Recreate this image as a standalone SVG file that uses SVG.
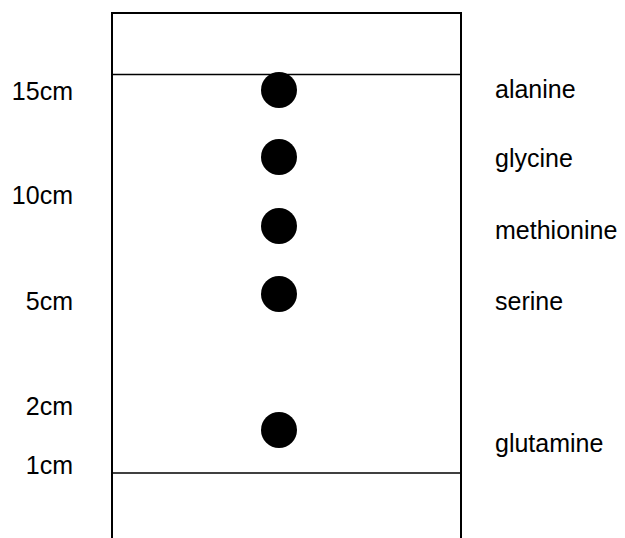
<svg xmlns="http://www.w3.org/2000/svg" width="625" height="538" viewBox="0 0 625 538">
<style>
text{font-family:"Liberation Sans",Arial,sans-serif;font-size:25px;fill:#000}
.l{text-anchor:end}
.box{fill:none;stroke:#000;stroke-width:2}
.ln{stroke:#000;stroke-width:1.6}
.dot{fill:#000}
</style>
<rect width="625" height="538" fill="#fff"/>
<g id="plate">
<path class="box" d="M112 540 V13 H461 V540"/>
<line class="ln" x1="112" y1="74.5" x2="461" y2="74.5"/>
<line class="ln" x1="112" y1="473" x2="461" y2="473"/>
</g>
<g id="scale">
<text class="l" x="73" y="100">15cm</text>
<text class="l" x="73" y="204">10cm</text>
<text class="l" x="73" y="310">5cm</text>
<text class="l" x="73" y="415">2cm</text>
<text class="l" x="73" y="474">1cm</text>
</g>
<g id="alanine"><circle class="dot" cx="279" cy="90" r="18"/><text x="495" y="98">alanine</text></g>
<g id="glycine"><circle class="dot" cx="279" cy="157" r="18"/><text x="495" y="167">glycine</text></g>
<g id="methionine"><circle class="dot" cx="279" cy="226" r="18"/><text x="495" y="239">methionine</text></g>
<g id="serine"><circle class="dot" cx="279" cy="294" r="18"/><text x="495" y="310">serine</text></g>
<g id="glutamine"><circle class="dot" cx="279" cy="430" r="18"/><text x="495" y="452">glutamine</text></g>
<g id="connectors"/>
</svg>
